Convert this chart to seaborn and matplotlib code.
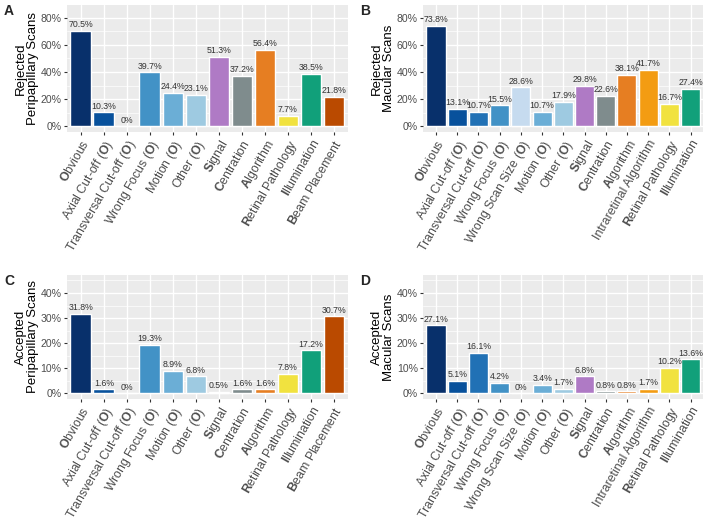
import pandas as pd
import matplotlib.pyplot as plt
import seaborn as sns
from matplotlib.ticker import MultipleLocator, FuncFormatter

# category labels (bold first letter / bold "(O)")
obvious = r"$\mathbf{O}$bvious"
axial = r"Axial Cut-off ($\mathbf{O}$)"
transversal = r"Transversal Cut-off ($\mathbf{O}$)"
focus = r"Wrong Focus ($\mathbf{O}$)"
scansize = r"Wrong Scan Size ($\mathbf{O}$)"
motion = r"Motion ($\mathbf{O}$)"
other = r"Other ($\mathbf{O}$)"
signal = r"$\mathbf{S}$ignal"
centration = r"$\mathbf{C}$entration"
algorithm = r"$\mathbf{A}$lgorithm"
intraretinal = "Intraretinal Algorithm"
pathology = r"$\mathbf{R}$etinal Pathology"
illumination = r"$\mathbf{I}$llumination"
beam = r"$\mathbf{B}$eam Placement"

# peripapillary (A, C) and macular (B, D) categories
cats_peri = [obvious, axial, transversal, focus, motion, other, signal,
             centration, algorithm, pathology, illumination, beam]
cats_mac = [obvious, axial, transversal, focus, scansize, motion, other, signal,
            centration, algorithm, intraretinal, pathology, illumination]

rej_peri = [70.5, 10.3, 0, 39.7, 24.4, 23.1, 51.3, 37.2, 56.4, 7.7, 38.5, 21.8]
rej_mac = [73.8, 13.1, 10.7, 15.5, 28.6, 10.7, 17.9, 29.8, 22.6, 38.1, 41.7, 16.7, 27.4]
acc_peri = [31.8, 1.6, 0, 19.3, 8.9, 6.8, 0.5, 1.6, 1.6, 7.8, 17.2, 30.7]
acc_mac = [27.1, 5.1, 16.1, 4.2, 0, 3.4, 1.7, 6.8, 0.8, 0.8, 1.7, 10.2, 13.6]

palette = {
    obvious: "#08306B", axial: "#08519C", transversal: "#2171B5",
    focus: "#4292C6", scansize: "#C6DBEF", motion: "#6BAED6",
    other: "#9ECAE1", signal: "#AF7AC5", centration: "#7F8C8D",
    algorithm: "#E67E22", intraretinal: "#F39C12", pathology: "#F1E23F",
    illumination: "#11A07A", beam: "#BA4A00",
}

sns.set_theme(style="darkgrid", rc={
    "axes.facecolor": "#EBEBEB", "grid.color": "white", "grid.linewidth": 1.0,
    "xtick.bottom": True, "ytick.left": True,
    "xtick.major.size": 2.5, "ytick.major.size": 2.5,
    "ytick.minor.size": 0, "xtick.minor.size": 0,
    "xtick.major.width": 0.8, "ytick.major.width": 0.8,
    "xtick.color": "#333333", "ytick.color": "#333333",
})
plt.rcParams["font.family"] = ["Liberation Sans", "DejaVu Sans"]
plt.rcParams["mathtext.fontset"] = "custom"
plt.rcParams["mathtext.rm"] = "Liberation Sans"
plt.rcParams["mathtext.bf"] = "Liberation Sans:bold"

fig = plt.figure(figsize=(7.09, 5.24), dpi=100)

panels = [
    ("A", cats_peri, rej_peri, "Rejected\nPeripapillary Scans", [0.0945, 0.748, 0.396, 0.242], 85, 20),
    ("B", cats_mac, rej_mac, "Rejected\nMacular Scans", [0.597, 0.748, 0.395, 0.242], 85, 20),
    ("C", cats_peri, acc_peri, "Accepted\nPeripapillary Scans", [0.0945, 0.2385, 0.396, 0.237], 45, 10),
    ("D", cats_mac, acc_mac, "Accepted\nMacular Scans", [0.597, 0.2385, 0.395, 0.237], 45, 10),
]

for letter, cats, vals, ylab, rect, top, step in panels:
    ax = fig.add_axes(rect)
    df = pd.DataFrame({"cat": cats, "val": vals})
    sns.barplot(data=df, x="cat", y="val", hue="cat", palette=palette,
                order=cats, hue_order=cats, width=0.9, legend=False,
                saturation=1, ax=ax)
    for i, v in enumerate(vals):
        txt = "0%" if v == 0 else f"{v:.1f}%"
        ax.text(i, v + top * 0.015, txt, ha="center", va="bottom",
                fontsize=6.3, color="#333333")
    n = len(cats)
    ax.set_xlim(-0.6, n - 0.4)
    ax.yaxis.set_major_locator(MultipleLocator(step))
    ax.yaxis.set_minor_locator(MultipleLocator(step / 2))
    ax.yaxis.set_major_formatter(FuncFormatter(lambda y, p: f"{y:.0f}%"))
    ax.set_ylim(-top * 0.05, top * 1.05)
    ax.grid(which="minor", axis="y", color="white", linewidth=0.5)
    ax.grid(which="major", color="white", linewidth=1.0)
    ax.set_axisbelow(True)
    ax.tick_params(axis="y", labelsize=7.6, labelcolor="#4D4D4D", pad=1.5)
    ax.tick_params(axis="x", labelsize=8.8, labelcolor="#4D4D4D", pad=1.5)
    ax.set_xticks(range(n))
    ax.set_xticklabels(cats, rotation=60, ha="right", rotation_mode="anchor")
    ax.set_xlabel("")
    ax.set_ylabel(ylab, fontsize=9.5, color="black", linespacing=1.0, labelpad=1)
    for s in ax.spines.values():
        s.set_visible(False)
    fig.text(rect[0] - 0.089, rect[1] + rect[3] + 0.002, letter,
             fontsize=10, fontweight="bold", va="top", ha="left")

fig.savefig("out.png", dpi=100)
